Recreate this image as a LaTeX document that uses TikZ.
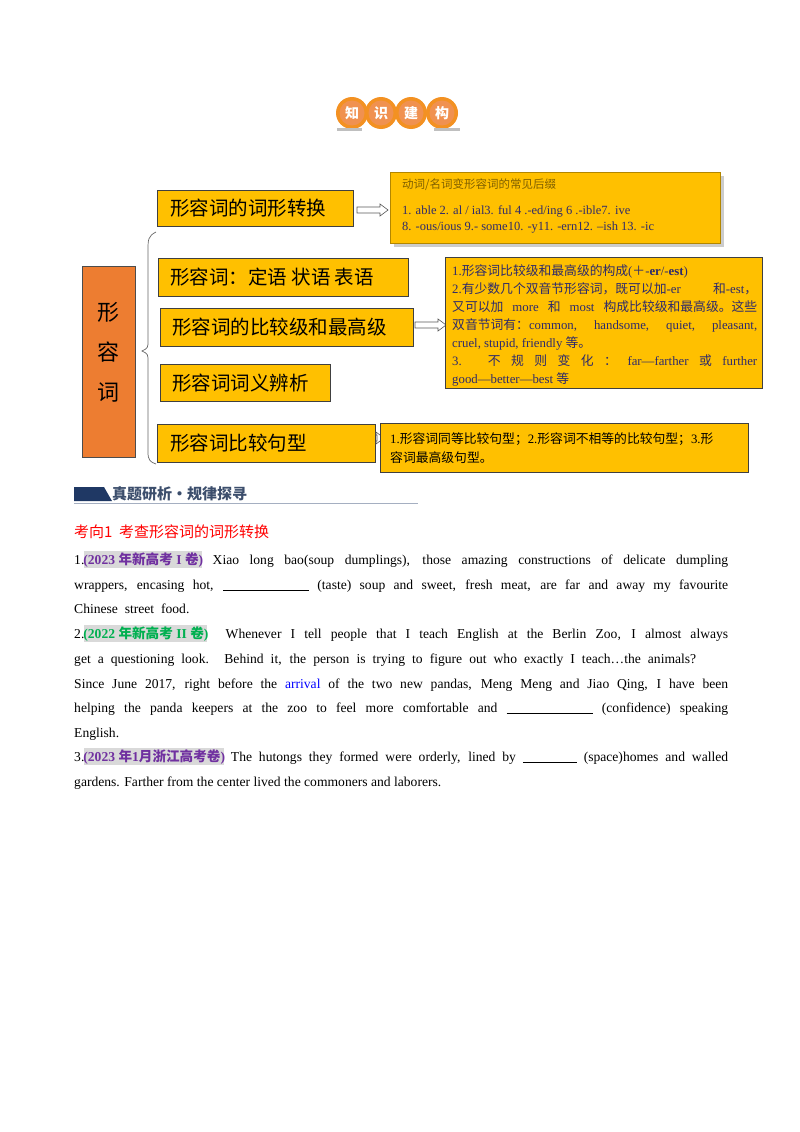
\documentclass[tikz,border=0pt]{standalone}
\usepackage{fontspec}
\setmainfont{Liberation Serif}
\newfontfamily\cjk{Noto Sans CJK SC}
\newcommand{\zh}[1]{{\cjk #1}}
\usetikzlibrary{arrows.meta}
\definecolor{gold}{HTML}{FFC000}
\definecolor{orng}{HTML}{ED7D31}
\definecolor{navy}{HTML}{2E2A6B}
\definecolor{olive}{HTML}{806000}
\definecolor{hdr}{HTML}{1F3864}
\definecolor{purp}{HTML}{7030A0}
\definecolor{grn}{HTML}{00B050}
\tikzset{
  ybox/.style={draw=black!75, fill=gold, line width=0.8pt},
  lbl/.style={anchor=west, font=\cjk\fontsize{19.5}{19.5}\selectfont, inner sep=0pt},
  para/.style={anchor=base west, inner sep=0pt, font=\fontsize{13.6}{13.6}\selectfont},
}
\newcommand{\harrow}[3]{% x1 x2 y
  \draw[black!65, fill=white, line width=0.6pt] (#1,#3-3) -- (#2-8,#3-3) -- (#2-8,#3-6) -- (#2,#3) -- (#2-8,#3+6) -- (#2-8,#3+3) -- (#1,#3+3) -- cycle;}
\begin{document}
\begin{tikzpicture}[x=1pt,y=-1pt]
\useasboundingbox (0,0) rectangle (800,1132);
% title badge
\foreach \x/\t [count=\i] in {352/知,381/识,411/建,442/构}{
  \fill[orng!70!gold] (\x,113) circle (16);
  \fill[orng!85] (\x,113) circle (12.5);
  \node[font=\cjk\bfseries\fontsize{14}{14}\selectfont, text=white] (t\i) at (\x,113) {\t};
}
\fill[black!25] (337,128) rectangle (362,131);
\fill[black!25] (434,128) rectangle (460,131);

% left vertical box
\node[draw=black!70, fill=orng, minimum width=53, minimum height=191, inner sep=0pt] (main) at (108.5,361.5) {};
\node[font=\cjk\fontsize{22}{22}\selectfont, align=center] (mt) at (108.5,352) {形\\[18pt]容\\[18pt]词};
% bracket
\draw[black!60, line width=0.7pt] (156,232) .. controls (148,236) and (148,240) .. (148,250) -- (148,340) .. controls (148,348) .. (142,351) coordinate (tip) .. controls (148,354) .. (148,362) -- (148,452) .. controls (148,460) and (150,462) .. (156,464) coordinate (bend);

% category boxes
\draw[ybox] (157,190) rectangle (353,226); \node[lbl] (a) at (170,208) {形容词的词形转换};
\draw[ybox] (158,258) rectangle (408,296); \node[lbl] (b) at (170,277) {形容词：定语 状语 表语};
\draw[ybox] (160,308) rectangle (413,346); \node[lbl] (c) at (172,327) {形容词的比较级和最高级};
\draw[ybox] (160,364) rectangle (330,401); \node[lbl] (d) at (172,383) {形容词词义辨析};
\draw[ybox] (157,424) rectangle (375,462); \node[lbl] (e) at (170,443) {形容词比较句型};

% arrows
\harrow{357}{388}{210}
\harrow{415}{446}{325}
\harrow{377}{384}{438}

% right box 1
\fill[black!20] (394,176) rectangle (724,247);
\draw[ybox, draw=gold!70!black] (390,172) rectangle (720,243);
\node[anchor=west, inner sep=0pt, text=olive, font=\cjk\fontsize{11.5}{11.5}\selectfont] (r1a) at (402,185) {动词/名词变形容词的常见后缀};
\node[anchor=west, inner sep=0pt, text=navy, font=\fontsize{12.5}{12.5}\selectfont] (r1b) at (402,211) {1. able 2. al / ial3. ful 4 .-ed/ing 6 .-ible7. ive};
\node[anchor=west, inner sep=0pt, text=navy, font=\fontsize{12.5}{12.5}\selectfont] (r1c) at (402,228) {8. -ous/ious 9.- some10. -y11. -ern12. –ish 13. -ic};

% right box 2
\draw[ybox] (445,257) rectangle (762,388);
\begin{scope}[every node/.style={anchor=west, inner sep=0pt, text=navy, font=\fontsize{12.8}{12.8}\selectfont}]
\node (r2a) at (452,271) {1.\zh{形容词比较级和最高级的构成}(\zh{＋}-\textbf{er}/-\textbf{est})};
\node (r2b) at (452,289) {\makebox[305pt][s]{2.\zh{有少数几个双音节形容词，既可以加}-er \zh{和}-est\zh{，}}};
\node (r2c) at (452,307) {\makebox[305pt][s]{\zh{又可以加} more \zh{和} most \zh{构成比较级和最高级。这些}}};
\node (r2d) at (452,325) {\makebox[305pt][s]{\zh{双音节词有：}common, handsome, quiet, pleasant,}};
\node (r2e) at (452,343) {cruel, stupid, friendly \zh{等。}};
\node (r2f) at (452,361) {\makebox[305pt][s]{3. \zh{不} \zh{规} \zh{则} \zh{变} \zh{化} \zh{：} far—farther \zh{或} further}};
\node (r2g) at (452,379) {good—better—best \zh{等}};
\end{scope}

% right box 3
\draw[ybox] (380,423) rectangle (748,472);
\node[anchor=west, inner sep=0pt, font=\fontsize{12.8}{12.8}\selectfont] (r3a) at (390,439) {1.\zh{形容词同等比较句型；}2.\zh{形容词不相等的比较句型；}3.\zh{形}};
\node[anchor=west, inner sep=0pt, font=\fontsize{12.8}{12.8}\selectfont] (r3b) at (390,458) {\zh{容词最高级句型。}};

% section header
\fill[hdr] (74,487) -- (104,487) -- (112,501) -- (74,501) -- cycle;
\node[anchor=west, inner sep=0pt, text=hdr!70!gray, font=\cjk\bfseries\fontsize{15}{15}\selectfont] (hd) at (112,494) {真题研析·规律探寻};
\draw[hdr!40, line width=0.8pt] (74,503) -- (418,503);

\node[anchor=west, inner sep=0pt, text=red, font=\cjk\fontsize{15}{15}\selectfont] (kx) at (74,532) {考向1\ \ 考查形容词的词形转换};

% paragraphs
\newcommand{\tagbox}[2]{\colorbox{black!15}{\hspace{-2pt}\textcolor{#1}{\textbf{#2}}\hspace{-2pt}}}
\setlength{\fboxsep}{1pt}
\node[para] (p1) at (74,564) {\makebox[654pt][s]{1.\tagbox{purp}{(2023 \zh{年新高考} I \zh{卷})} Xiao long bao(soup dumplings), those amazing constructions of delicate dumpling}};
\node[para] (p2) at (74,589) {\makebox[654pt][s]{wrappers, encasing hot, \underline{\hspace{86pt}} (taste) soup and sweet, fresh meat, are far and away my favourite}};
\node[para] (p3) at (74,613) {Chinese\ \ street\ \ food.};
\node[para] (p4) at (74,638) {\makebox[654pt][s]{2.\tagbox{grn}{(2022 \zh{年新高考} II \zh{卷})}\ \ Whenever I tell people that I teach English at the Berlin Zoo, I almost always}};
\node[para] (p5) at (74,663) {\makebox[622pt][s]{get a questioning look. Behind it, the person is trying to figure out who exactly I teach…the animals?}};
\node[para] (p6) at (74,688) {\makebox[654pt][s]{Since June 2017, right before the \textcolor{blue}{arrival} of the two new pandas, Meng Meng and Jiao Qing, I have been}};
\node[para] (p7) at (74,712) {\makebox[654pt][s]{helping the panda keepers at the zoo to feel more comfortable and \underline{\hspace{86pt}} (confidence) speaking}};
\node[para] (p8) at (74,737) {English.};
\node[para] (p9) at (74,761) {\makebox[654pt][s]{3.\tagbox{purp}{(2023 \zh{年}1\zh{月浙江高考卷})} The hutongs they formed were orderly, lined by \underline{\hspace{54pt}} (space)homes and walled}};
\node[para] (p10) at (74,786) {gardens. Farther from the center lived the commoners and laborers.};
\end{tikzpicture}
\end{document}
